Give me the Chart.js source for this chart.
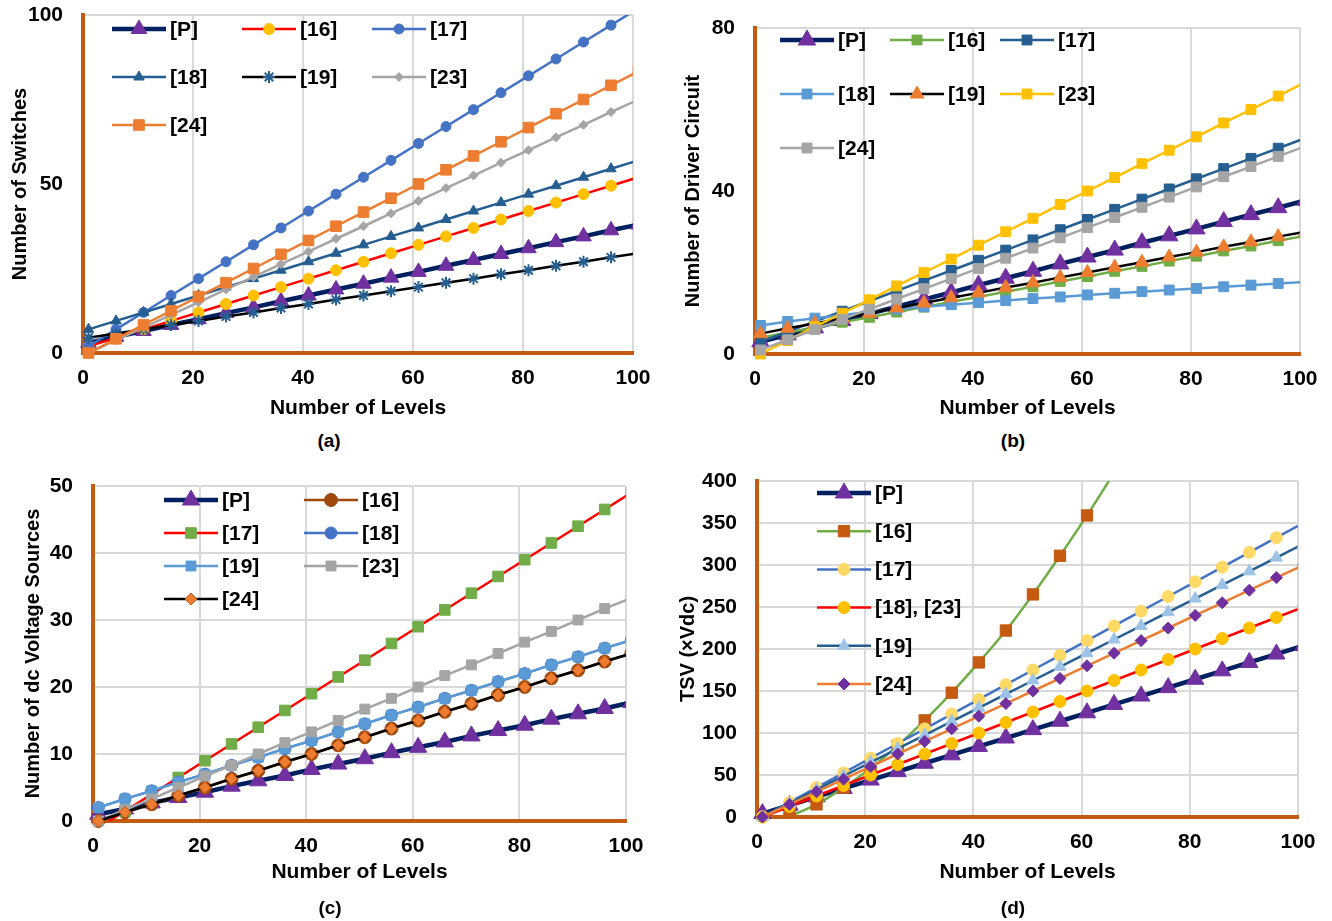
<!DOCTYPE html>
<html>
<head>
<meta charset="utf-8">
<script src="https://cdn.jsdelivr.net/npm/chart.js@4.4.1/dist/chart.umd.min.js"></script>
<style>
body { margin: 0; background: #fff; width: 1332px; height: 921px; position: relative; overflow: hidden; font-family: "Liberation Sans", Arial, sans-serif; }
canvas { position: absolute; }
.cap { position: absolute; width: 60px; text-align: center; font-weight: bold; font-size: 19px; line-height: 22px; color: #000; }
</style>
</head>
<body>
<canvas id="chartA" width="660" height="430" style="left:0;top:0;width:660px;height:430px"></canvas>
<canvas id="chartB" width="662" height="430" style="left:670px;top:0;width:662px;height:430px"></canvas>
<canvas id="chartC" width="660" height="455" style="left:0;top:460px;width:660px;height:455px"></canvas>
<canvas id="chartD" width="662" height="455" style="left:670px;top:460px;width:662px;height:455px"></canvas>
<div class="cap" style="left:299px;top:430px">(a)</div>
<div class="cap" style="left:983px;top:430px">(b)</div>
<div class="cap" style="left:300px;top:897px">(c)</div>
<div class="cap" style="left:983px;top:897px">(d)</div>
<script>
// x positions (number of levels) where markers sit; last one is past the axis and gets clipped
const levels = [1, 6, 11, 16, 21, 26, 31, 36, 41, 46, 51, 56, 61, 66, 71, 76, 81, 86, 91, 96, 101];

// (a) number of switches
const swP  = [3, 4.8, 6.5, 8.3, 10, 11.8, 13.5, 15.3, 17, 18.8, 20.5, 22.3, 24, 25.8, 27.5, 29.3, 31, 32.8, 34.5, 36.3, 38];
const sw16 = [2, 4.5, 7, 9.5, 12, 14.5, 17, 19.5, 22, 24.5, 27, 29.5, 32, 34.5, 37, 39.5, 42, 44.5, 47, 49.5, 52];
const sw17 = [2, 7, 12, 17, 22, 27, 32, 37, 42, 47, 52, 57, 62, 67, 72, 77, 82, 87, 92, 97, 102];
const sw18 = [7, 9.5, 12, 14.5, 17, 19.5, 22, 24.5, 27, 29.5, 32, 34.5, 37, 39.5, 42, 44.5, 47, 49.5, 52, 54.5, 57];
const sw19 = [4.5, 5.8, 7, 8.3, 9.5, 10.8, 12, 13.3, 14.5, 15.8, 17, 18.3, 19.5, 20.8, 22, 23.3, 24.5, 25.8, 27, 28.3, 29.5];
const sw23 = [0, 3.8, 7.5, 11.3, 15, 18.8, 22.5, 26.3, 30, 33.8, 37.5, 41.3, 45, 48.8, 52.5, 56.3, 60, 63.8, 67.5, 71.3, 75];
const sw24 = [0, 4.2, 8.3, 12.5, 16.7, 20.8, 25, 29.2, 33.3, 37.5, 41.7, 45.8, 50, 54.2, 58.3, 62.5, 66.7, 70.8, 75, 79.2, 83.3];

// (b) number of driver circuits
const drP  = [3, 4.7, 6.4, 8.2, 9.9, 11.6, 13.4, 15.1, 16.9, 18.6, 20.3, 22.1, 23.8, 25.5, 27.3, 29, 30.7, 32.5, 34.2, 35.9, 37.7];
const dr16 = [4, 5.3, 6.5, 7.8, 9, 10.3, 11.5, 12.8, 14, 15.3, 16.5, 17.8, 19, 20.3, 21.5, 22.8, 24, 25.3, 26.5, 27.8, 29];
const dr17 = [3, 5.5, 8, 10.5, 13, 15.5, 18, 20.5, 23, 25.5, 28, 30.5, 33, 35.5, 38, 40.5, 43, 45.5, 48, 50.5, 53];
const dr18 = [7, 8, 8.8, 9.6, 10.3, 11, 11.6, 12.1, 12.6, 13.1, 13.6, 14, 14.5, 14.9, 15.3, 15.7, 16.1, 16.5, 16.9, 17.3, 17.7];
const dr19 = [5, 6.3, 7.5, 8.8, 10, 11.3, 12.5, 13.8, 15, 16.3, 17.5, 18.8, 20, 21.3, 22.5, 23.8, 25, 26.3, 27.5, 28.8, 30];
const dr23 = [0, 3.3, 6.7, 10, 13.3, 16.7, 20, 23.3, 26.7, 30, 33.3, 36.7, 40, 43.3, 46.7, 50, 53.3, 56.7, 60, 63.3, 66.7];
const dr24 = [1, 3.5, 6, 8.5, 11, 13.5, 16, 18.5, 21, 23.5, 26, 28.5, 31, 33.5, 36, 38.5, 41, 43.5, 46, 48.5, 51];

// (c) number of dc voltage sources
const dcP  = [1, 1.8, 2.7, 3.5, 4.3, 5.2, 6, 6.8, 7.7, 8.5, 9.3, 10.2, 11, 11.8, 12.7, 13.5, 14.3, 15.2, 16, 16.8, 17.7];
const dc16 = [0, 1.3, 2.5, 3.8, 5, 6.3, 7.5, 8.8, 10, 11.3, 12.5, 13.8, 15, 16.3, 17.5, 18.8, 20, 21.3, 22.5, 23.8, 25];
const dc17 = [-1, 1.5, 4, 6.5, 9, 11.5, 14, 16.5, 19, 21.5, 24, 26.5, 29, 31.5, 34, 36.5, 39, 41.5, 44, 46.5, 49];
const dc18 = [2, 3.3, 4.5, 5.8, 7, 8.3, 9.5, 10.8, 12, 13.3, 14.5, 15.8, 17, 18.3, 19.5, 20.8, 22, 23.3, 24.5, 25.8, 27];
const dc19 = [2, 3.3, 4.5, 5.8, 7, 8.3, 9.5, 10.8, 12, 13.3, 14.5, 15.8, 17, 18.3, 19.5, 20.8, 22, 23.3, 24.5, 25.8, 27];
const dc23 = [0, 1.7, 3.3, 5, 6.7, 8.3, 10, 11.7, 13.3, 15, 16.7, 18.3, 20, 21.7, 23.3, 25, 26.7, 28.3, 30, 31.7, 33.3];
const dc24 = [0, 1.3, 2.5, 3.8, 5, 6.3, 7.5, 8.8, 10, 11.3, 12.5, 13.8, 15, 16.3, 17.5, 18.8, 20, 21.3, 22.5, 23.8, 25];

// (d) total standing voltage
const tsP  = [4, 14, 24, 34, 44, 54, 64, 74, 84, 94, 104, 114, 124, 134, 144, 154, 164, 174, 184, 194, 204];
const ts16 = [-10, 1, 15, 35, 58, 85, 115, 148, 184, 222, 265, 311, 359, 410, 464];
const ts17 = [0, 17.5, 35, 52.5, 70, 87.5, 105, 122.5, 140, 157.5, 175, 192.5, 210, 227.5, 245, 262.5, 280, 297.5, 315, 332.5, 350];
const ts18 = [0, 12.5, 25, 37.5, 50, 62.5, 75, 87.5, 100, 112.5, 125, 137.5, 150, 162.5, 175, 187.5, 200, 212.5, 225, 237.5, 250];
const ts19 = [0, 16.3, 32.5, 48.8, 65, 81.3, 97.5, 113.8, 130, 146.3, 162.5, 178.8, 195, 211.3, 227.5, 243.8, 260, 276.3, 292.5, 308.8, 325];
const ts24 = [0, 15, 30, 45, 60, 75, 90, 105, 120, 135, 150, 165, 180, 195, 210, 225, 240, 255, 270, 285, 300];

const FAMILY = '"Liberation Sans", Arial, sans-serif';
const FONT = { family: FAMILY, size: 21, weight: 'bold' };
const YTITLE_FONT = { family: FAMILY, size: 20, weight: 'bold' };
const AXIS_ORANGE = '#C55A11';
const GRID = '#D9D9D9';

function series(label, values, line, marker, style, radius, extra) {
    return Object.assign({
        label: label,
        data: values.map((v, i) => ({ x: levels[i], y: v })),
        borderColor: line,
        backgroundColor: marker,
        pointBackgroundColor: marker,
        pointBorderColor: marker,
        pointBorderWidth: 1,
        pointStyle: style,
        pointRadius: radius,
        borderWidth: 2.5,
        tension: 0,
        clip: { left: 14, top: 0, right: 0, bottom: 14 }
    }, extra || {});
}

// legend drawn inside the plot area, laid out as a grid
const innerLegend = {
    id: 'innerLegend',
    afterDraw(chart, args, opts) {
        const ctx = chart.ctx;
        const drawPt = Chart.helpers && Chart.helpers.drawPoint;
        chart.data.datasets.forEach((ds, i) => {
            const col = i % opts.cols;
            const row = Math.floor(i / opts.cols);
            const x = opts.x + col * opts.colW;
            const y = opts.y + row * opts.rowH;
            ctx.save();
            ctx.strokeStyle = ds.borderColor;
            ctx.lineWidth = ds.borderWidth;
            ctx.beginPath();
            ctx.moveTo(x, y);
            ctx.lineTo(x + opts.len, y);
            ctx.stroke();
            ctx.fillStyle = ds.pointBackgroundColor;
            ctx.strokeStyle = ds.pointBorderColor;
            ctx.lineWidth = ds.pointBorderWidth;
            if (drawPt) {
                drawPt(ctx, { pointStyle: ds.pointStyle, radius: ds.pointRadius, rotation: 0, borderWidth: ds.pointBorderWidth }, x + opts.len / 2, y);
            }
            ctx.fillStyle = '#000';
            ctx.font = 'bold 21px ' + FAMILY;
            ctx.textAlign = 'left';
            ctx.textBaseline = 'middle';
            ctx.fillText(ds.label, x + opts.len + 4, y + 1);
            ctx.restore();
        });
    }
};

function makeChart(id, geo, yMax, yStep, allYGrid, yTitle, datasets, legend) {
    datasets.forEach((ds, i) => { ds.order = -i; });
    return new Chart(document.getElementById(id).getContext('2d'), {
        type: 'line',
        data: { datasets: datasets },
        plugins: [innerLegend],
        options: {
            responsive: false,
            animation: false,
            devicePixelRatio: 1,
            layout: { padding: { left: 0, top: geo.top, right: geo.w - geo.right, bottom: 0 } },
            plugins: {
                legend: { display: false },
                tooltip: { enabled: false },
                innerLegend: legend
            },
            scales: {
                x: {
                    type: 'linear', min: 0, max: 100,
                    ticks: { stepSize: 20, padding: 13, font: FONT, color: '#000', maxRotation: 0, autoSkip: false },
                    grid: { color: GRID, lineWidth: 2, drawTicks: false },
                    border: { color: AXIS_ORANGE, width: 4 },
                    title: { display: true, text: 'Number of Levels', font: FONT, color: '#000', padding: { top: 0, bottom: geo.xTitleBottom } },
                    afterFit: s => { s.height = geo.h - geo.bottom; s.paddingLeft = 0; s.paddingRight = 0; }
                },
                y: {
                    type: 'linear', min: 0, max: yMax,
                    ticks: { stepSize: yStep, padding: 20, font: FONT, color: '#000' },
                    grid: {
                        color: allYGrid ? GRID : (c => (c.tick && c.tick.value === yMax) ? GRID : 'rgba(0,0,0,0)'),
                        lineWidth: 2, drawTicks: false
                    },
                    border: { color: AXIS_ORANGE, width: 4 },
                    title: { display: true, text: yTitle, font: YTITLE_FONT, color: '#000', padding: { top: geo.yTitlePad, bottom: 0 } },
                    afterFit: s => { s.width = geo.left; s.paddingTop = 0; s.paddingBottom = 0; }
                }
            }
        }
    });
}

const NAVY = '#002060', PURPLE = '#7030A0';

makeChart('chartA',
    { w: 660, h: 430, left: 83, right: 633, top: 15, bottom: 353, yTitlePad: 8, xTitleBottom: 9 },
    100, 50, false, 'Number of Switches',
    [
        series('[P]', swP, NAVY, PURPLE, 'triangle', 9, { borderWidth: 4.5 }),
        series('[16]', sw16, '#FF0000', '#FFC000', 'circle', 5.5),
        series('[17]', sw17, '#4472C4', '#4472C4', 'circle', 5),
        series('[18]', sw18, '#255E91', '#255E91', 'triangle', 6),
        series('[19]', sw19, '#000000', '#255E91', 'star', 6, { pointBorderWidth: 2 }),
        series('[23]', sw23, '#A5A5A5', '#A5A5A5', 'rectRot', 4.5),
        series('[24]', sw24, '#ED7D31', '#ED7D31', 'rect', 7.5)
    ],
    { x: 112, y: 29, colW: 130, rowH: 48, cols: 3, len: 54 });

makeChart('chartB',
    { w: 662, h: 430, left: 85, right: 630, top: 28, bottom: 354, yTitlePad: 11, xTitleBottom: 9 },
    80, 40, false, 'Number of Driver Circuit',
    [
        series('[P]', drP, NAVY, PURPLE, 'triangle', 10, { borderWidth: 4.5 }),
        series('[16]', dr16, '#70AD47', '#70AD47', 'rect', 7),
        series('[17]', dr17, '#255E91', '#255E91', 'rect', 7),
        series('[18]', dr18, '#5B9BD5', '#5B9BD5', 'rect', 7),
        series('[19]', dr19, '#000000', '#ED7D31', 'triangle', 8),
        series('[23]', dr23, '#FFC000', '#FFC000', 'rect', 7),
        series('[24]', dr24, '#A5A5A5', '#A5A5A5', 'rect', 7)
    ],
    { x: 110, y: 40, colW: 110, rowH: 54, cols: 3, len: 54 });

makeChart('chartC',
    { w: 660, h: 455, left: 93, right: 626, top: 26, bottom: 361, yTitlePad: 21, xTitleBottom: 30 },
    50, 10, true, 'Number of dc Voltage Sources',
    [
        series('[P]', dcP, NAVY, PURPLE, 'triangle', 10, { borderWidth: 4.5 }),
        series('[16]', dc16, '#9E480E', '#9E480E', 'circle', 6.5),
        series('[17]', dc17, '#FF0000', '#70AD47', 'rect', 7.5, { clip: { left: 14, top: 0, right: 0, bottom: 0 } }),
        series('[18]', dc18, '#4472C4', '#4472C4', 'circle', 6),
        series('[19]', dc19, '#5B9BD5', '#5B9BD5', 'rect', 7),
        series('[23]', dc23, '#A5A5A5', '#A5A5A5', 'rect', 7),
        series('[24]', dc24, '#000000', '#ED7D31', 'rectRot', 6, { pointBorderColor: '#C55A11' })
    ],
    { x: 164, y: 40, colW: 140, rowH: 33, cols: 2, len: 54 });

makeChart('chartD',
    { w: 662, h: 455, left: 87, right: 628, top: 21, bottom: 357, yTitlePad: 6, xTitleBottom: 30 },
    400, 50, true, 'TSV (\u00D7Vdc)',
    [
        series('[P]', tsP, NAVY, PURPLE, 'triangle', 10, { borderWidth: 4.5 }),
        series('[16]', ts16, '#70AD47', '#C55A11', 'rect', 8, { cubicInterpolationMode: 'monotone', clip: { left: 14, top: 0, right: 0, bottom: 0 } }),
        series('[17]', ts17, '#4472C4', '#FFD966', 'circle', 6),
        series('[18], [23]', ts18, '#FF0000', '#FFC000', 'circle', 6),
        series('[19]', ts19, '#255E91', '#9DC3E6', 'triangle', 7),
        series('[24]', ts24, '#ED7D31', '#7030A0', 'rectRot', 6)
    ],
    { x: 147, y: 33, colW: 0, rowH: 38.2, cols: 1, len: 54 });
</script>
</body>
</html>
